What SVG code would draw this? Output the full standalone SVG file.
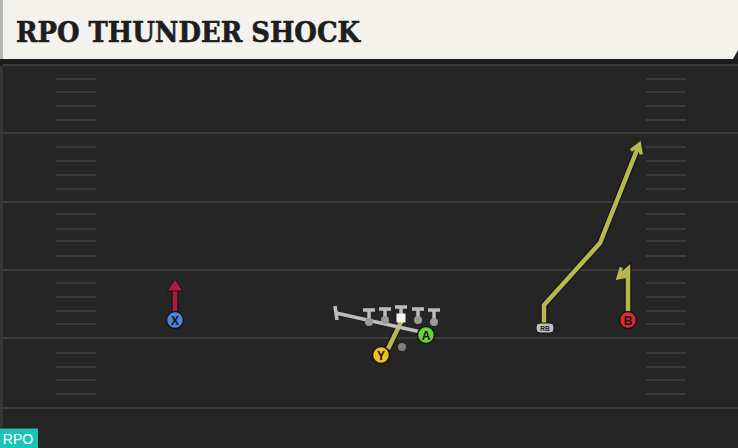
<svg xmlns="http://www.w3.org/2000/svg" width="738" height="448" viewBox="0 0 738 448">
<style>
.yard{stroke:#3b3b3b;stroke-width:2}
.hash{stroke:#3a3a3a;stroke-width:2}
.rt-o{fill:none;stroke:#16161f;stroke-width:7;stroke-linejoin:miter;stroke-linecap:butt}
.rt{fill:none;stroke:#b7b94e;stroke-width:4.5;stroke-linejoin:miter;stroke-linecap:butt}
.ol{fill:none;stroke:#bdbdbd;stroke-width:3.5;stroke-linecap:butt}
.lbl{font-family:"Liberation Sans",Arial,sans-serif;font-weight:bold;font-size:12px;fill:#111;text-anchor:middle}
.pl{stroke:#151515;stroke-width:1.5}
</style>
<defs>
<marker id="chev" viewBox="0 0 14 14" refX="9" refY="7" markerWidth="14" markerHeight="14" markerUnits="userSpaceOnUse" orient="auto">
<path d="M1,1.5 L10,7 L1,12.5" fill="none" stroke="#b7b94e" stroke-width="3.5"/>
</marker>
</defs>
<rect x="0" y="0" width="738" height="448" fill="#252525"/>
<rect x="0" y="59" width="738" height="7" fill="#1b1b1b"/>
<rect x="0" y="66" width="3" height="382" fill="#353535"/>
<g id="field">
<line class="yard" x1="3" y1="65" x2="738" y2="65"/>
<line class="yard" x1="3" y1="133" x2="738" y2="133"/>
<line class="yard" x1="3" y1="202" x2="738" y2="202"/>
<line class="yard" x1="3" y1="270" x2="738" y2="270"/>
<line class="yard" x1="3" y1="338" x2="738" y2="338"/>
<line class="yard" x1="3" y1="408" x2="738" y2="408"/>
<g class="hash">
<line x1="56" y1="79" x2="96" y2="79"/><line x1="56" y1="92" x2="96" y2="92"/><line x1="56" y1="106" x2="96" y2="106"/><line x1="56" y1="120" x2="96" y2="120"/>
<line x1="56" y1="147" x2="96" y2="147"/><line x1="56" y1="161" x2="96" y2="161"/><line x1="56" y1="175" x2="96" y2="175"/><line x1="56" y1="189" x2="96" y2="189"/>
<line x1="56" y1="214" x2="96" y2="214"/><line x1="56" y1="229" x2="96" y2="229"/><line x1="56" y1="241" x2="96" y2="241"/><line x1="56" y1="256" x2="96" y2="256"/>
<line x1="56" y1="283" x2="96" y2="283"/><line x1="56" y1="297" x2="96" y2="297"/><line x1="56" y1="311" x2="96" y2="311"/><line x1="56" y1="324" x2="96" y2="324"/>
<line x1="56" y1="353" x2="96" y2="353"/><line x1="56" y1="367" x2="96" y2="367"/><line x1="56" y1="380" x2="96" y2="380"/><line x1="56" y1="394" x2="96" y2="394"/>
<line x1="646" y1="79" x2="686" y2="79"/><line x1="646" y1="92" x2="686" y2="92"/><line x1="646" y1="106" x2="686" y2="106"/><line x1="646" y1="120" x2="686" y2="120"/>
<line x1="646" y1="147" x2="686" y2="147"/><line x1="646" y1="161" x2="686" y2="161"/><line x1="646" y1="175" x2="686" y2="175"/><line x1="646" y1="189" x2="686" y2="189"/>
<line x1="646" y1="214" x2="686" y2="214"/><line x1="646" y1="229" x2="686" y2="229"/><line x1="646" y1="241" x2="686" y2="241"/><line x1="646" y1="256" x2="686" y2="256"/>
<line x1="646" y1="283" x2="686" y2="283"/><line x1="646" y1="297" x2="686" y2="297"/><line x1="646" y1="311" x2="686" y2="311"/><line x1="646" y1="324" x2="686" y2="324"/>
<line x1="646" y1="353" x2="686" y2="353"/><line x1="646" y1="367" x2="686" y2="367"/><line x1="646" y1="380" x2="686" y2="380"/><line x1="646" y1="394" x2="686" y2="394"/>
</g>
</g>
<g id="header">
<polygon points="0,0 738,0 738,50 733,59 0,59" fill="#f4f2ec"/>
<rect x="0" y="0" width="3" height="59" fill="#b5b5b5"/>
<text x="16" y="42" font-family="'DejaVu Serif',serif" font-weight="bold" font-size="28" fill="#1e1e1e" stroke="#1e1e1e" stroke-width="0.6" textLength="344" lengthAdjust="spacingAndGlyphs">RPO THUNDER SHOCK</text>
</g>
<g id="connectors">
<polyline class="rt-o" points="544,323 544,305 600,243 639,145"/>
<polyline class="rt" points="544,323 544,305 600,243 639,145" marker-end="url(#chev)"/>
<polyline class="rt-o" points="628,312 628,269 619,277"/>
<polyline class="rt" points="628,312 628,269 619,277" marker-end="url(#chev)"/>
<line class="rt-o" x1="388" y1="349" x2="402" y2="320"/>
<line class="rt" x1="388" y1="349" x2="402" y2="320"/>
<line x1="175" y1="311" x2="175" y2="287" stroke="#151515" stroke-width="7"/>
<line x1="175" y1="311" x2="175" y2="287" stroke="#b01c40" stroke-width="4.5"/>
<polygon points="167,291 175,279 183,291" fill="#b01c40" stroke="#151515" stroke-width="1"/>
</g>
<g id="line">
<line class="ol" x1="336" y1="313" x2="421" y2="332"/>
<line class="ol" x1="335" y1="306" x2="337" y2="320"/>
<g class="ol">
<line x1="363" y1="310" x2="375" y2="310"/><line x1="369" y1="310" x2="369" y2="321"/>
<line x1="379" y1="309" x2="391" y2="309"/><line x1="385" y1="309" x2="385" y2="319"/>
<line x1="395" y1="307" x2="407" y2="307"/><line x1="401" y1="307" x2="401" y2="315"/>
<line x1="412" y1="309" x2="424" y2="309"/><line x1="418" y1="309" x2="418" y2="319"/>
<line x1="428" y1="310" x2="440" y2="310"/><line x1="434" y1="310" x2="434" y2="321"/>
</g>
<circle cx="369" cy="322" r="4" fill="#9a9a9a"/>
<circle cx="385" cy="320" r="4" fill="#9a9a9a"/>
<circle cx="418" cy="320" r="4" fill="#9a9a9a"/>
<circle cx="434" cy="322" r="4" fill="#9a9a9a"/>
<rect x="396.5" y="313.5" width="9" height="9" fill="#f4f4f4"/>
<circle cx="402" cy="347" r="4" fill="#7e7e7e"/>
</g>
<g id="X"><circle class="pl" cx="175" cy="320" r="8.5" fill="#4a86d8"/><text class="lbl" x="175" y="324.5">X</text></g>
<g id="A"><circle class="pl" cx="426" cy="335" r="8.5" fill="#6cd23a"/><text class="lbl" x="426" y="339.5">A</text></g>
<g id="Y"><circle class="pl" cx="381" cy="355" r="8.5" fill="#f0c020"/><text class="lbl" x="381" y="359.5">Y</text></g>
<g id="B"><circle class="pl" cx="628" cy="320" r="8.5" fill="#e0283c"/><text class="lbl" x="628" y="324.5">B</text></g>
<g id="RB"><rect x="536" y="323" width="18" height="10" rx="4" fill="#bdbdbd" stroke="#151515" stroke-width="1"/><text x="545" y="331" font-family="'Liberation Sans',Arial,sans-serif" font-size="6.5" font-weight="bold" fill="#222" text-anchor="middle">RB</text></g>
<g id="rpo"><rect x="0" y="428" width="38" height="20" fill="#1cc4b8"/><line x1="0" y1="428" x2="38" y2="428" stroke="#3a1414" stroke-width="1"/><text x="18" y="444" font-family="'Liberation Sans',Arial,sans-serif" font-size="14" fill="#fff" text-anchor="middle">RPO</text></g>
</svg>
